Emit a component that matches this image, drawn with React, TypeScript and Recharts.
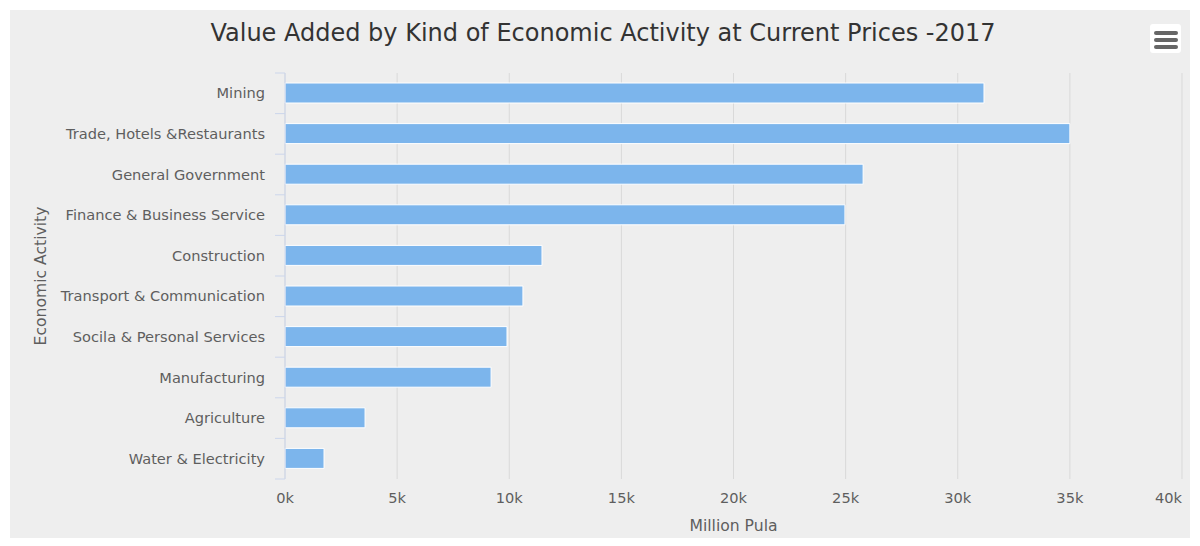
import React from 'react';
import { BarChart, Bar, XAxis, YAxis, CartesianGrid } from 'recharts';

const activities = [
  'Mining',
  'Trade, Hotels &Restaurants',
  'General Government',
  'Finance & Business Service',
  'Construction',
  'Transport & Communication',
  'Socila & Personal Services',
  'Manufacturing',
  'Agriculture',
  'Water & Electricity',
];

const valueAdded = [31170, 35000, 25780, 24970, 11460, 10610, 9900, 9190, 3570, 1740];

const xTicks = [0, 5000, 10000, 15000, 20000, 25000, 30000, 35000, 40000];

const data = activities.map((name, i) => ({ name, value: valueAdded[i] }));

const FONT = '"DejaVu Sans", Verdana, sans-serif';
const W = 1200;
const H = 546;
const margin = { top: 73, right: 18, bottom: 12, left: 10 };
const yAxisWidth = 275;
const xAxisHeight = 55;
const plotHeight = H - margin.top - margin.bottom - xAxisHeight;
const band = plotHeight / activities.length;

// category label + tick marks on band edges (highcharts style)
const CategoryTick = (props: any) => {
  const { x, y, payload, index } = props;
  const axisX = x + 20;
  return (
    <g>
      <line x1={axisX - 10} x2={axisX} y1={y - band / 2} y2={y - band / 2} stroke="#ccd6eb" />
      {index === activities.length - 1 && (
        <line x1={axisX - 10} x2={axisX} y1={y + band / 2} y2={y + band / 2} stroke="#ccd6eb" />
      )}
      <text x={x} y={y} dy="0.35em" textAnchor="end" fill="#5e5e5e" fontSize={14.6} fontFamily={FONT}>
        {payload.value}
      </text>
    </g>
  );
};

const ValueTick = (props: any) => {
  const { x, y, payload, index } = props;
  const last = index === xTicks.length - 1;
  return (
    <text
      x={x}
      y={y}
      dy="0.9em"
      textAnchor={last ? 'end' : 'middle'}
      fill="#5e5e5e"
      fontSize={14.6}
      fontFamily={FONT}
    >
      {payload.value / 1000 + 'k'}
    </text>
  );
};

export default function App() {
  return (
    <div style={{ position: 'absolute', left: 0, top: 0, width: W, height: H, background: '#fff', fontFamily: FONT }}>
      <div style={{ position: 'absolute', left: 10, top: 10, width: 1180, height: 528, background: '#eeeeee' }} />
      <div
        style={{
          position: 'absolute',
          left: 0,
          top: 19,
          width: 1206,
          textAlign: 'center',
          fontSize: 24,
          color: '#333',
        }}
      >
        Value Added by Kind of Economic Activity at Current Prices -2017
      </div>
      <div
        style={{
          position: 'absolute',
          left: 1150,
          top: 24,
          width: 31,
          height: 29,
          background: '#fff',
          borderRadius: 3,
        }}
      >
        {[8, 15, 22].map((t) => (
          <div
            key={t}
            style={{ position: 'absolute', left: 4, top: t - 1, width: 24, height: 4, borderRadius: 2, background: '#666' }}
          />
        ))}
      </div>
      <div style={{ position: 'absolute', left: 0, top: 0 }}>
        <BarChart width={W} height={H} data={data} layout="vertical" margin={margin} barCategoryGap={0}>
          <CartesianGrid horizontal={false} vertical stroke="#d9d9d9" />
          <XAxis
            type="number"
            domain={[0, 40000]}
            ticks={xTicks}
            interval={0}
            axisLine={false}
            tickLine={false}
            tickSize={0}
            tickMargin={11}
            height={xAxisHeight}
            tick={<ValueTick />}
            label={{
              value: 'Million Pula',
              position: 'insideBottom',
              offset: 3,
              fill: '#5e5e5e',
              fontSize: 15.6,
              fontFamily: FONT,
            }}
          />
          <YAxis
            type="category"
            dataKey="name"
            width={yAxisWidth}
            axisLine={{ stroke: '#ccd6eb' }}
            tickLine={false}
            tickSize={0}
            tickMargin={20}
            interval={0}
            tick={<CategoryTick />}
            label={{
              value: 'Economic Activity',
              angle: -90,
              position: 'insideLeft',
              offset: 30,
              fill: '#5e5e5e',
              fontSize: 15.6,
              fontFamily: FONT,
              style: { textAnchor: 'middle' },
            }}
          />
          <Bar dataKey="value" fill="#7cb5ec" stroke="#fff" strokeWidth={1} barSize={20} isAnimationActive={false} />
        </BarChart>
      </div>
    </div>
  );
}
